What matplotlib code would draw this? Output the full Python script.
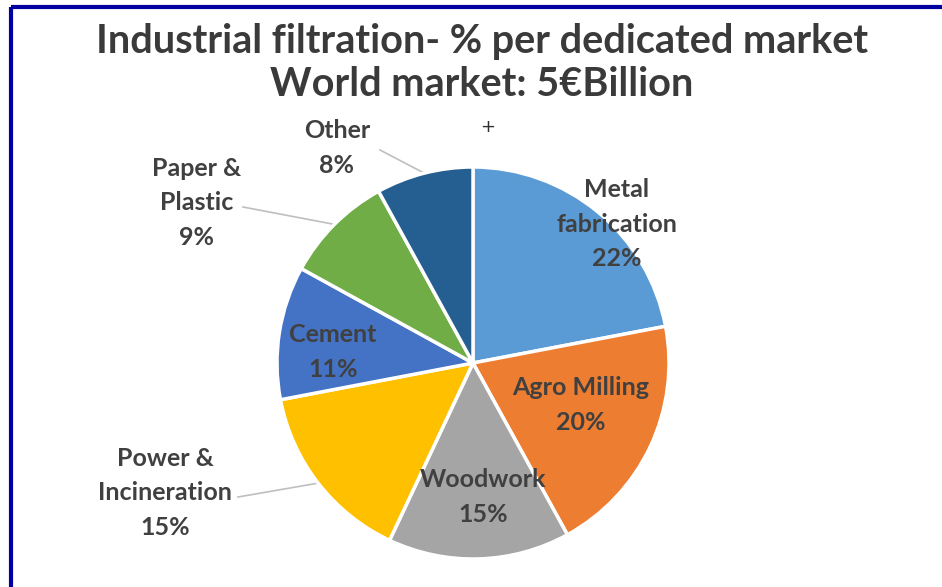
import matplotlib
matplotlib.use("Agg")
import matplotlib.pyplot as plt
import numpy as np

categories = ["Metal\nfabrication", "Agro Milling", "Woodwork", "Power &\nIncineration",
              "Cement", "Paper &\nPlastic", "Other"]
values = [22, 20, 15, 15, 11, 9, 8]
colors = ["#5B9BD5", "#ED7D31", "#A5A5A5", "#FFC000", "#4472C4", "#70AD47", "#255E91"]
title_lines = ["Industrial filtration- % per dedicated market", "World market: 5€Billion"]

W, H = 942, 587
fig = plt.figure(figsize=(W / 100, H / 100), dpi=100)
ax = fig.add_axes([0, 0, 1, 1])
ax.set_xlim(0, W)
ax.set_ylim(0, H)
ax.set_aspect("equal")
ax.axis("off")

cx, cy, R = 473, H - 363, 196
wedges, _ = ax.pie(values, center=(cx, cy), radius=R, startangle=90, counterclock=False,
                   colors=colors, wedgeprops=dict(edgecolor="white", linewidth=2.5))
ax.set_xlim(0, W)
ax.set_ylim(0, H)

txt = "#404040"
font = dict(family="Lato", fontweight="bold", color=txt, fontsize=18, ha="center",
            va="center", linespacing=1.6)

inside = {0: (617, 224), 1: (581, 405), 2: (483, 497), 4: (333, 352)}
outside = {3: (165, 493), 5: (197, 203), 6: (337, 148)}
line_end = {3: (238, 497), 5: (243, 207), 6: (380, 150)}

for i, w in enumerate(wedges):
    label = f"{categories[i]}\n{values[i]}%"
    if i in inside:
        x, y = inside[i]
        ax.text(x, H - y, label, **font)
    else:
        x, y = outside[i]
        ax.text(x, H - y, label, **font)
        ang = np.deg2rad((w.theta1 + w.theta2) / 2)
        px, py = cx + R * np.cos(ang), cy + R * np.sin(ang)
        lx, ly = line_end[i]
        ax.plot([lx, px], [H - ly, py], color="#BFBFBF", lw=1.2, zorder=0)

fig.text(482 / W, 1 - 41 / H, title_lines[0], ha="center", va="center", family="Lato",
         fontweight="bold", fontsize=28.5, color="#3A3A3A")
fig.text(482 / W, 1 - 85 / H, title_lines[1], ha="center", va="center", family="Lato",
         fontweight="bold", fontsize=28.5, color="#3A3A3A")
fig.text(488 / W, 1 - 127 / H, "+", ha="center", va="center", fontsize=13, color="#303030")

# frame (left and top edges visible)
ax.plot([11, 11], [0, H - 7], color="#0000A0", lw=3, solid_capstyle="butt")
ax.plot([11, W], [H - 7, H - 7], color="#0000A0", lw=3, solid_capstyle="butt")

fig.savefig("out.png", dpi=100, facecolor="white")
